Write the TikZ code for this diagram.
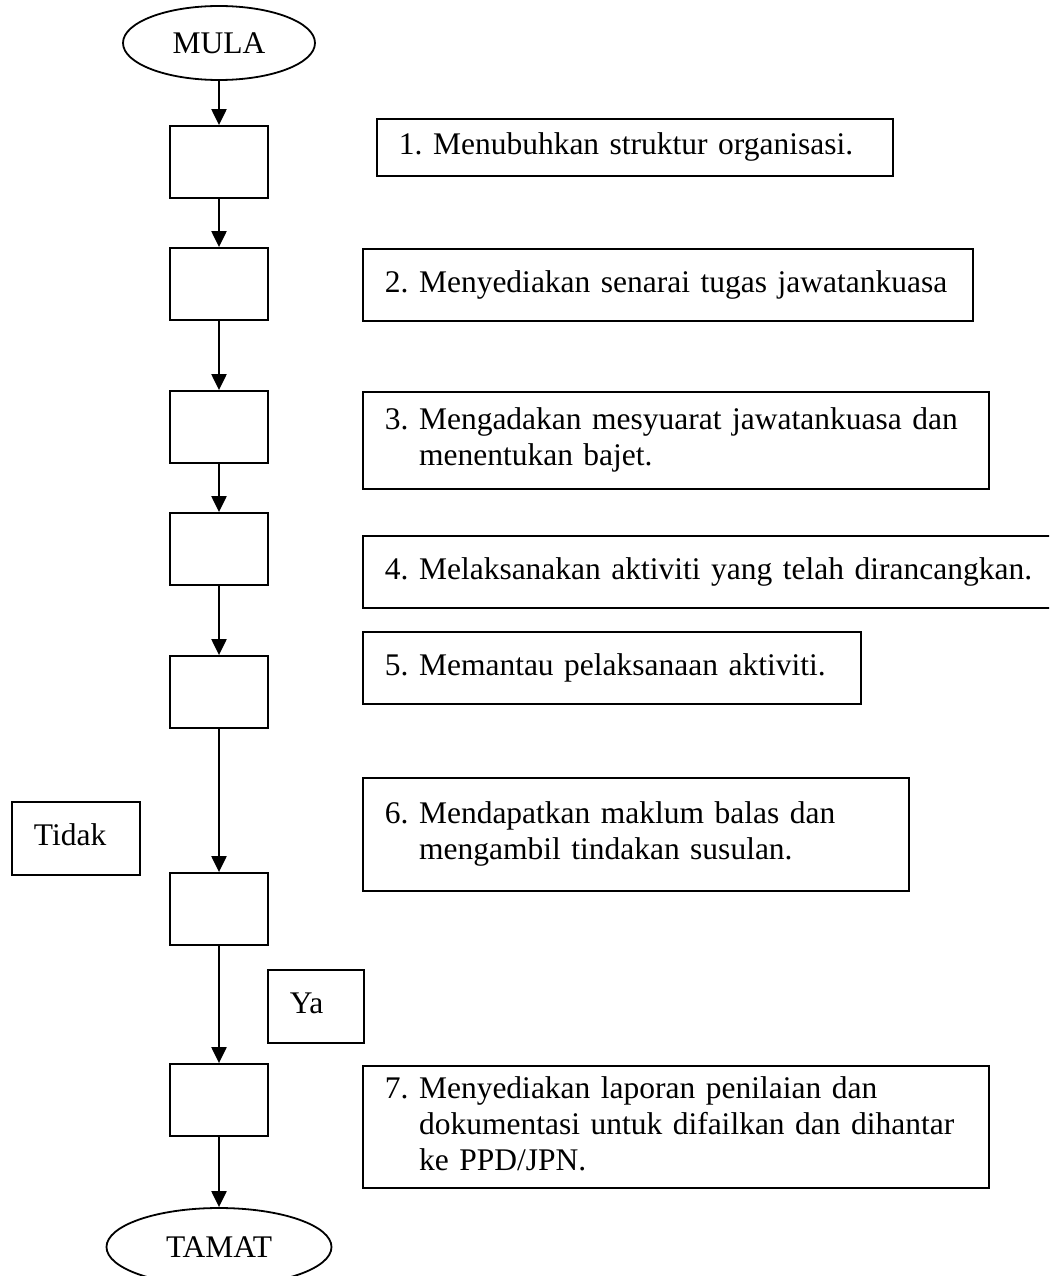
\documentclass[tikz,border=0pt]{standalone}
\usepackage{fontspec}
\setmainfont{Liberation Serif}
\usetikzlibrary{arrows.meta,shapes.geometric}
\frenchspacing

% a step text set on unbreakable lines; wrapped lines hang under the first word
\newcommand{\numbered}[2]{\begin{tabular}[c]{@{}l@{\ }l@{}}#1 & #2\end{tabular}}
\newcommand{\oneline}[1]{\begin{tabular}[c]{@{}l@{}}#1\end{tabular}}

\tikzset{
  base/.style={font=\fontsize{31.5}{36}\selectfont, line width=1.8pt},
  flowbox/.style={base, draw, rectangle, minimum width=98pt, minimum height=72pt, inner sep=0pt},
  term/.style={base, draw, ellipse, inner sep=0pt},
  tbox/.style 2 args={base, draw, rectangle, anchor=north west, inner xsep=22pt,
    inner ysep=0pt, text width=#1, minimum height=#2, align=left},
  flow/.style={line width=2.2pt, -{Triangle[length=16pt,width=15pt]}}
}

\begin{document}
\begin{tikzpicture}[x=1pt,y=-1pt]
  \clip (0,0) rectangle (1049,1276);
  \fill[white] (0,0) rectangle (1049,1276);

  % main column
  \node[term, minimum width=192pt, minimum height=74pt] (mula) at (219,43) {MULA};
  \node[flowbox] (b1) at (219,162) {};
  \node[flowbox] (b2) at (219,284) {};
  \node[flowbox] (b3) at (219,427) {};
  \node[flowbox] (b4) at (219,549) {};
  \node[flowbox] (b5) at (219,692) {};
  \node[flowbox] (b6) at (219,909) {};
  \node[flowbox] (b7) at (219,1100) {};
  \node[term, minimum width=225pt, minimum height=78pt] (tamat) at (219,1247) {TAMAT};

  \draw[flow] (mula) -- (b1);
  \draw[flow] (b1) -- (b2);
  \draw[flow] (b2) -- (b3);
  \draw[flow] (b3) -- (b4);
  \draw[flow] (b4) -- (b5);
  \draw[flow] (b5) -- (b6);
  \draw[flow] (b6) -- (b7);
  \draw[flow] (b7) -- (tamat);

  % decision labels
  \node[tbox={84pt}{73pt}] (tidak) at (11,801) {\oneline{Tidak}};
  \node[tbox={52pt}{73pt}] (ya) at (267,969) {\oneline{Ya}};

  % step descriptions
  \node[tbox={472pt}{57pt}] (t1) at (376,118) {\oneline{1. Menubuhkan struktur organisasi.}};
  \node[tbox={566pt}{72pt}] (t2) at (362,248) {\oneline{2. Menyediakan senarai tugas jawatankuasa}};
  \node[tbox={582pt}{97pt}] (t3) at (362,391)
    {\numbered{3.}{Mengadakan mesyuarat jawatankuasa dan\\ & menentukan bajet.}};
  \node[tbox={650pt}{72pt}] (t4) at (362,535) {\oneline{4. Melaksanakan aktiviti yang telah dirancangkan.}};
  \node[tbox={454pt}{72pt}] (t5) at (362,631) {\oneline{5. Memantau pelaksanaan aktiviti.}};
  \node[tbox={502pt}{113pt}] (t6) at (362,777)
    {\numbered{6.}{Mendapatkan maklum balas dan\\ & mengambil tindakan susulan.}};
  \node[tbox={582pt}{122pt}] (t7) at (362,1065)
    {\numbered{7.}{Menyediakan laporan penilaian dan\\ & dokumentasi untuk difailkan dan dihantar\\ & ke PPD/JPN.}};
\end{tikzpicture}
\end{document}
